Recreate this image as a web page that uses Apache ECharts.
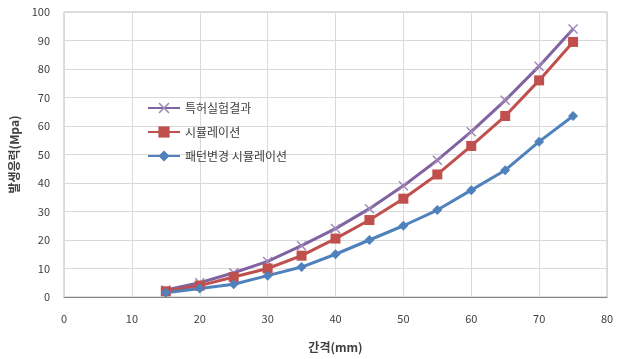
<!DOCTYPE html>
<html><head><meta charset="utf-8">
<script src="https://cdn.jsdelivr.net/npm/echarts@6/dist/echarts.min.js"></script>
<style>html,body{margin:0;padding:0;background:#fff}#c{width:617px;height:359px}</style>
</head><body><div id="c"></div>
<script>
const xValues = [15,20,25,30,35,40,45,50,55,60,65,70,75];
const patentValues = [2.5,5,8.5,12.5,18,24,31,39,48,58,69,81,94];
const simValues = [2,4,7,10,14.5,20.5,27,34.5,43,53,63.5,76,89.5];
const patternValues = [1.5,3,4.5,7.5,10.5,15,20,25,30.5,37.5,44.5,54.5,63.5];
const seriesNames = ['특허실험결과','시뮬레이션','패턴변경 시뮬레이션'];
const xTicks = [0,10,20,30,40,50,60,70,80];
const yTicks = [0,10,20,30,40,50,60,70,80,90,100];

const pair = v => xValues.map((x,i)=>[x,v[i]]);
const xSym = 'path://M0,1L1,0L5,4L9,0L10,1L6,5L10,9L9,10L5,6L1,10L0,9L4,5Z';
const font = 'Noto Sans CJK KR';
const chart = echarts.init(document.getElementById('c'));
chart.setOption({
  animation:false,
  textStyle:{fontFamily:font},
  grid:{left:64,right:10,top:12,bottom:62,show:true,borderColor:'#bfbfbf',borderWidth:1},
  legend:{
    orient:'vertical',left:142,top:97,itemGap:12,itemWidth:32,itemHeight:14,
    textStyle:{fontSize:12,color:'#404040',fontFamily:font},
    data:seriesNames
  },
  xAxis:{
    type:'value',min:xTicks[0],max:xTicks[xTicks.length-1],interval:10,
    name:'간격(mm)',nameLocation:'middle',nameGap:44,
    nameTextStyle:{fontSize:12,fontWeight:'bold',color:'#404040',fontFamily:font},
    axisLine:{show:true,lineStyle:{color:'#868686'}},axisTick:{show:false},
    axisLabel:{fontSize:11,color:'#404040',margin:16},
    splitLine:{show:true,lineStyle:{color:'#d9d9d9'}}
  },
  yAxis:{
    type:'value',min:yTicks[0],max:yTicks[yTicks.length-1],interval:10,
    name:'발생응력(Mpa)',nameLocation:'middle',nameGap:44,
    nameTextStyle:{fontSize:12,fontWeight:'bold',color:'#404040',fontFamily:font},
    axisLine:{show:false},axisTick:{show:false},
    axisLabel:{fontSize:11,color:'#404040',margin:14},
    splitLine:{show:true,lineStyle:{color:'#d9d9d9'}}
  },
  series:[
    {name:seriesNames[0],type:'line',data:pair(patentValues),symbol:xSym,symbolSize:10,
     itemStyle:{color:'#9B87B8'},lineStyle:{width:3,color:'#8064A2'}},
    {name:seriesNames[1],type:'line',data:pair(simValues),symbol:'rect',symbolSize:10,
     itemStyle:{color:'#C0504D'},lineStyle:{width:3,color:'#C0504D'}},
    {name:seriesNames[2],type:'line',data:pair(patternValues),symbol:'diamond',symbolSize:10,
     itemStyle:{color:'#4F81BD'},lineStyle:{width:3,color:'#4F81BD'}}
  ]
});
</script></body></html>
